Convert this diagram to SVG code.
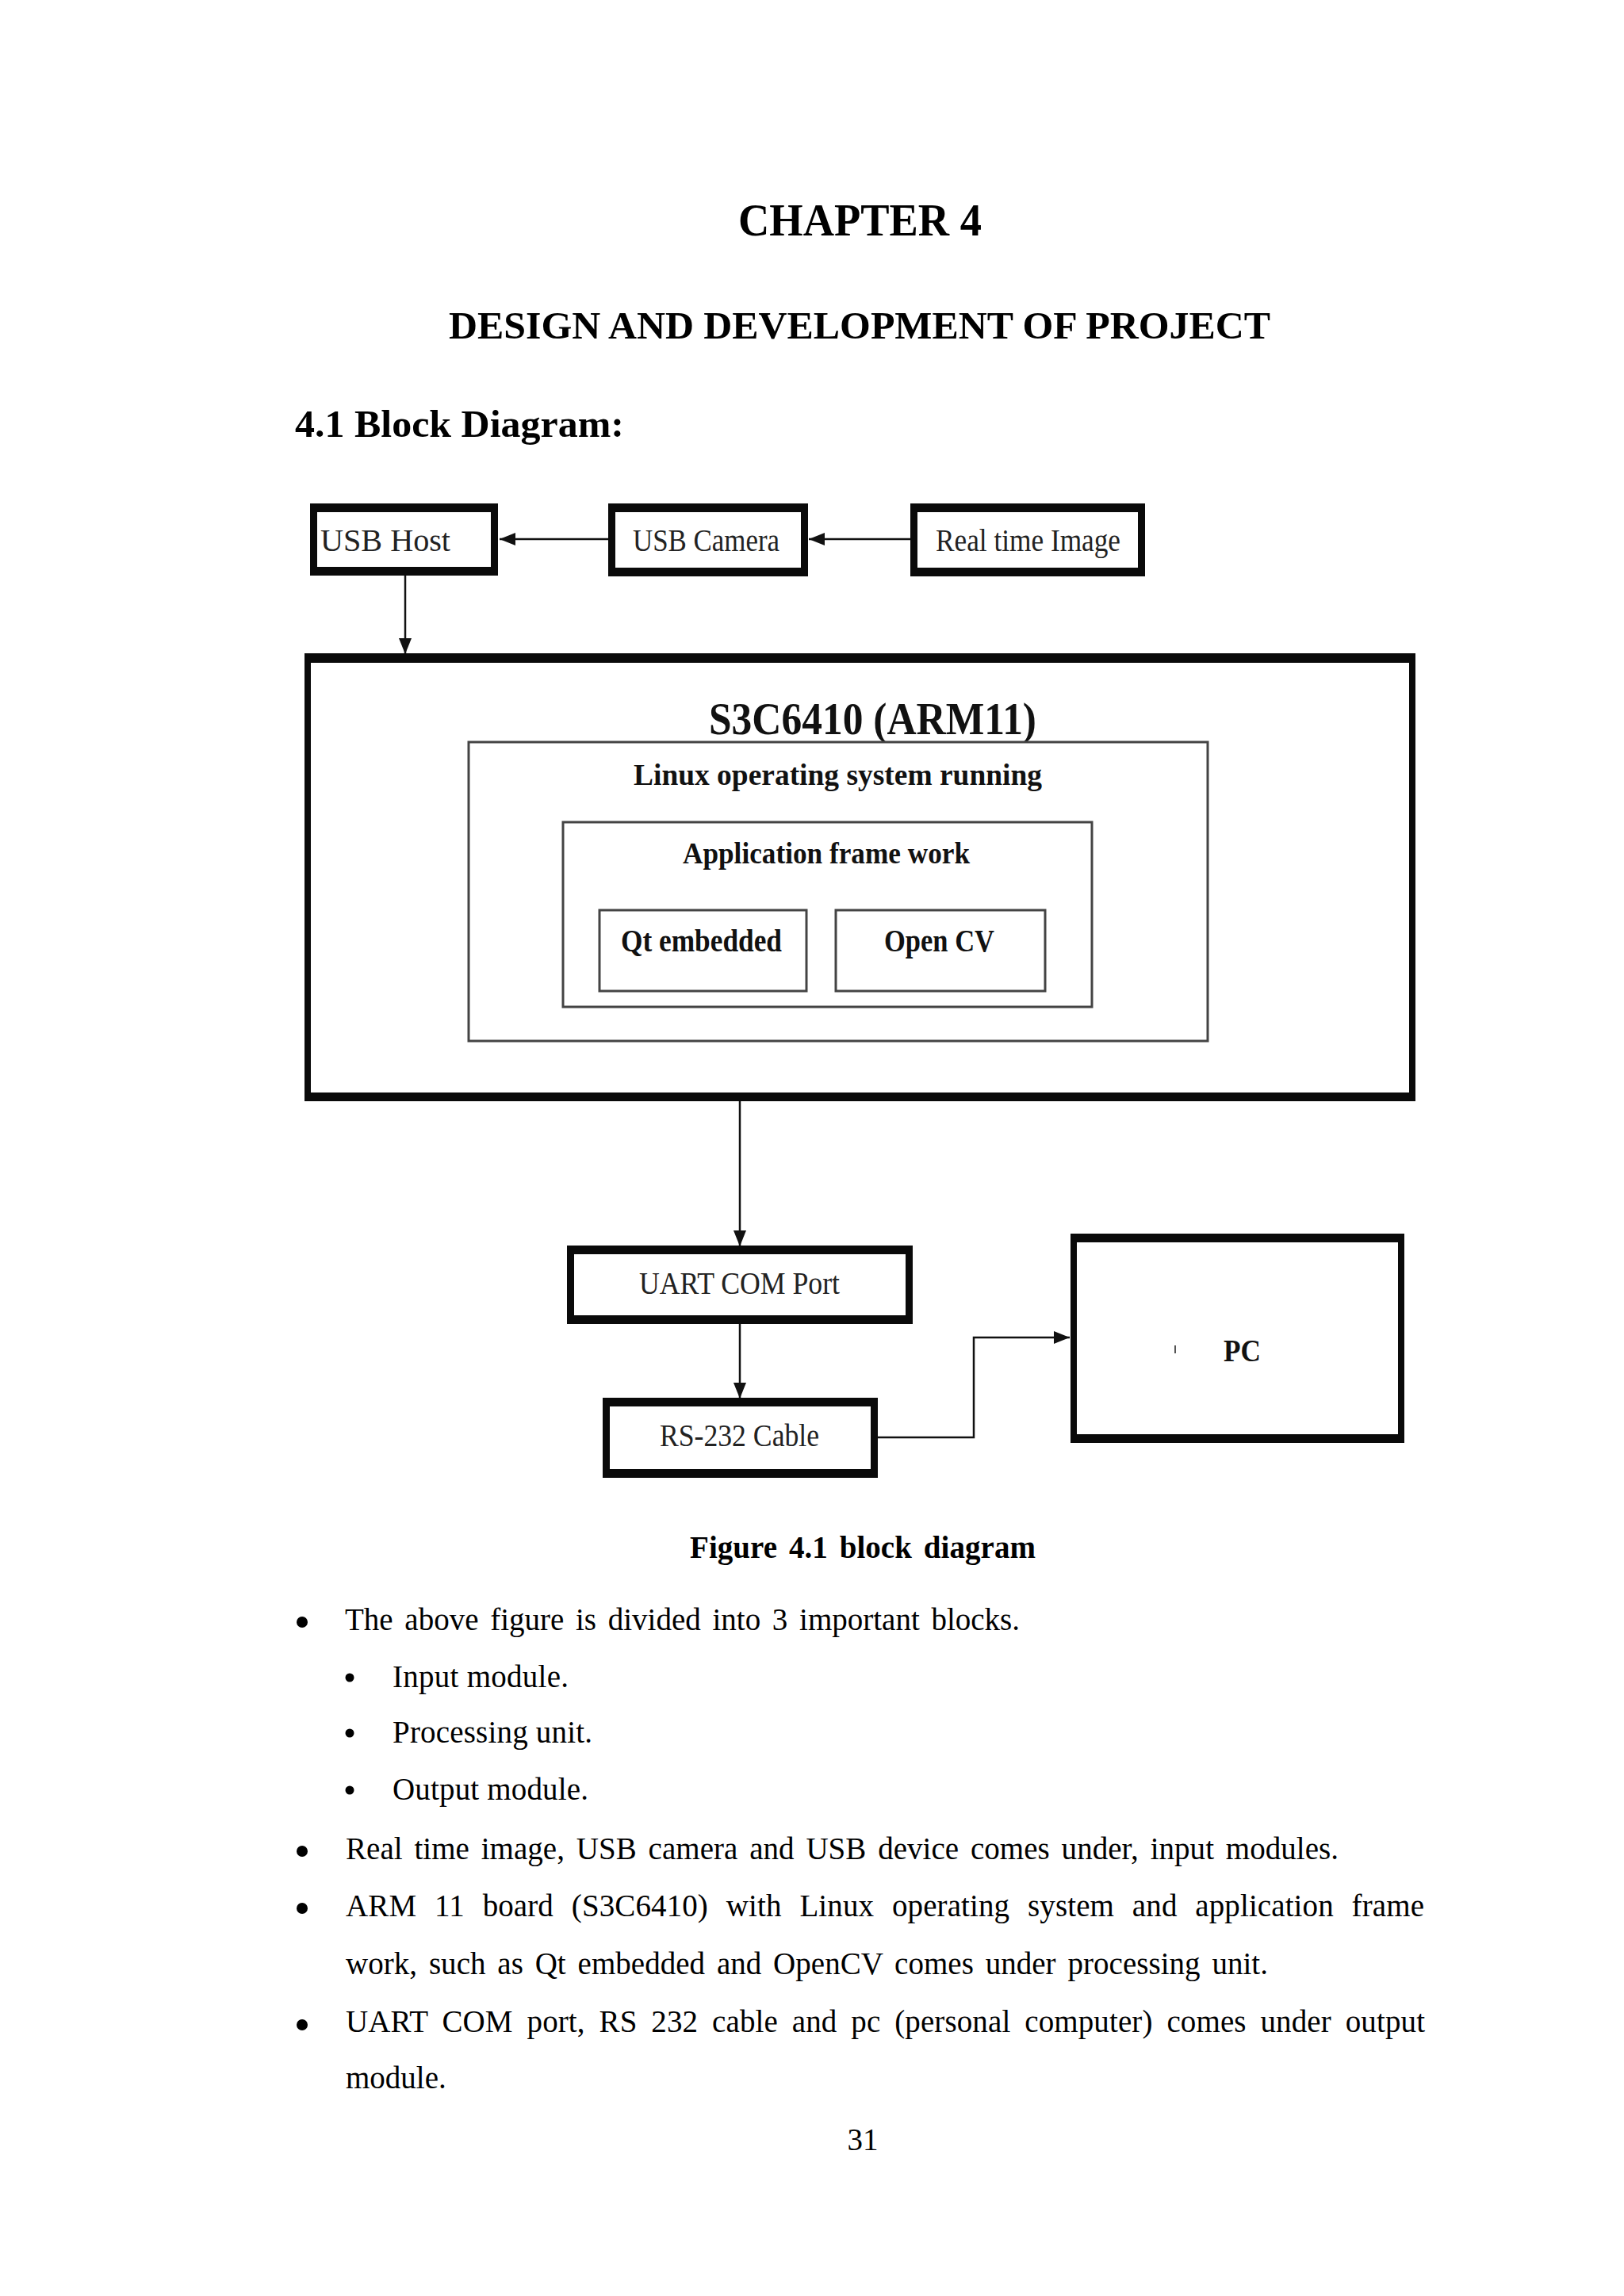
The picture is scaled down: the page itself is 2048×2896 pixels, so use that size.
<svg xmlns="http://www.w3.org/2000/svg" width="2048" height="2896" viewBox="0 0 2048 2896">
<style>
.serif{font-family:"Liberation Serif","Times New Roman",serif;}
.hb{font-family:"Liberation Serif","Times New Roman",serif;font-weight:bold;fill:#000;}
.body{font-family:"Liberation Serif","Times New Roman",serif;font-size:39px;fill:#000;}
.lbl{font-family:"Liberation Serif","Times New Roman",serif;font-size:40px;fill:#222;}
.blbl{font-family:"Liberation Serif","Times New Roman",serif;font-weight:bold;fill:#111;}
.thin{fill:#fff;stroke:#444;stroke-width:3;}
.conn{fill:none;stroke:#111;stroke-width:2.5;}
.outer{fill:#0a0a0a;}
.inner{fill:#fff;}
</style>
<defs>
<marker id="ah" markerUnits="userSpaceOnUse" markerWidth="22" markerHeight="18" refX="20" refY="9" orient="auto">
<path d="M0,1 L20,9 L0,17 z" fill="#111"/>
</marker>
</defs>
<rect x="0" y="0" width="2048" height="2896" fill="#fff"/>

<!-- Headings -->
<text class="hb" x="931" y="297" font-size="56" textLength="307" lengthAdjust="spacingAndGlyphs">CHAPTER 4</text>
<text class="hb" x="566" y="427" font-size="48" textLength="1036" lengthAdjust="spacingAndGlyphs">DESIGN AND DEVELOPMENT OF PROJECT</text>
<text class="hb" x="372" y="551" font-size="49" textLength="415" lengthAdjust="spacingAndGlyphs">4.1 Block Diagram:</text>

<!-- Connectors -->
<g id="connectors">
<line class="conn" x1="767" y1="680" x2="630" y2="680" marker-end="url(#ah)"/>
<line class="conn" x1="1148" y1="680" x2="1020" y2="680" marker-end="url(#ah)"/>
<line class="conn" x1="511" y1="726" x2="511" y2="825" marker-end="url(#ah)"/>
<line class="conn" x1="933" y1="1389" x2="933" y2="1572" marker-end="url(#ah)"/>
<line class="conn" x1="933" y1="1670" x2="933" y2="1764" marker-end="url(#ah)"/>
<polyline class="conn" points="1107,1813 1228,1813 1228,1687 1349,1687" marker-end="url(#ah)"/>
</g>

<!-- Top row -->
<g id="usb-host">
<rect class="outer" x="391" y="635" width="237" height="91"/>
<rect class="inner" x="400" y="646" width="219" height="69"/>
<text class="lbl" x="404" y="695" textLength="164" lengthAdjust="spacingAndGlyphs">USB Host</text>
</g>
<g id="usb-camera">
<rect class="outer" x="767" y="635" width="252" height="92"/>
<rect class="inner" x="776" y="646" width="234" height="70"/>
<text class="lbl" x="798" y="695" textLength="185" lengthAdjust="spacingAndGlyphs">USB Camera</text>
</g>
<g id="real-time-image">
<rect class="outer" x="1148" y="635" width="296" height="92"/>
<rect class="inner" x="1157" y="646" width="278" height="70"/>
<text class="lbl" x="1180" y="695" textLength="233" lengthAdjust="spacingAndGlyphs">Real time Image</text>
</g>

<!-- Main processor box -->
<g id="s3c6410">
<rect class="outer" x="384" y="824" width="1401" height="565"/>
<rect class="inner" x="392" y="836" width="1385" height="542"/>
<text class="blbl" x="894" y="926" font-size="56" textLength="413" lengthAdjust="spacingAndGlyphs">S3C6410 (ARM11)</text>
</g>
<g id="linux">
<rect class="thin" x="591" y="936" width="932" height="377"/>
<text class="blbl" x="799" y="990" font-size="38" textLength="515" lengthAdjust="spacingAndGlyphs">Linux operating system running</text>
</g>
<g id="app-framework">
<rect class="thin" x="710" y="1037" width="667" height="233"/>
<text class="blbl" x="861" y="1089" font-size="37" textLength="362" lengthAdjust="spacingAndGlyphs">Application frame work</text>
</g>
<g id="qt-embedded">
<rect class="thin" x="756" y="1148" width="261" height="102"/>
<text class="blbl" x="783" y="1200" font-size="39" textLength="203" lengthAdjust="spacingAndGlyphs">Qt embedded</text>
</g>
<g id="opencv">
<rect class="thin" x="1054" y="1148" width="264" height="102"/>
<text class="blbl" x="1115" y="1200" font-size="39" textLength="139" lengthAdjust="spacingAndGlyphs">Open CV</text>
</g>

<!-- Output side -->
<g id="uart">
<rect class="outer" x="715" y="1571" width="436" height="99"/>
<rect class="inner" x="724" y="1582" width="418" height="77"/>
<text class="lbl" x="806" y="1632" textLength="253" lengthAdjust="spacingAndGlyphs">UART COM Port</text>
</g>
<g id="rs232">
<rect class="outer" x="760" y="1763" width="347" height="101"/>
<rect class="inner" x="769" y="1774" width="329" height="79"/>
<text class="lbl" x="832" y="1824" textLength="201" lengthAdjust="spacingAndGlyphs">RS-232 Cable</text>
</g>
<g id="pc">
<rect class="outer" x="1350" y="1556" width="421" height="264"/>
<rect class="inner" x="1358" y="1567" width="405" height="242"/>
<line x1="1482" y1="1697" x2="1482" y2="1707" stroke="#555" stroke-width="2"/>
<text class="blbl" x="1543" y="1717" font-size="40" textLength="47" lengthAdjust="spacingAndGlyphs">PC</text>
</g>

<!-- Caption -->
<text class="hb" x="870" y="1965" font-size="39" word-spacing="5" textLength="436" lengthAdjust="spacing">Figure 4.1 block diagram</text>

<!-- Body -->
<circle cx="381" cy="2046" r="7" fill="#000"/>
<text class="body" x="435" y="2056" word-spacing="5" textLength="851" lengthAdjust="spacing">The above figure is divided into 3 important blocks.</text>
<circle cx="441" cy="2116" r="5.5" fill="#000"/>
<text class="body" x="495" y="2128" textLength="222" lengthAdjust="spacing">Input module.</text>
<circle cx="441" cy="2186" r="5.5" fill="#000"/>
<text class="body" x="495" y="2198" textLength="252" lengthAdjust="spacing">Processing unit.</text>
<circle cx="441" cy="2258" r="5.5" fill="#000"/>
<text class="body" x="495" y="2270" textLength="247" lengthAdjust="spacing">Output module.</text>
<circle cx="381" cy="2335" r="7" fill="#000"/>
<text class="body" x="436" y="2345" word-spacing="5" textLength="1252" lengthAdjust="spacing">Real time image, USB camera and USB device comes under, input modules.</text>
<circle cx="381" cy="2407" r="7" fill="#000"/>
<text class="body" x="436" y="2417" word-spacing="13" textLength="1360" lengthAdjust="spacing">ARM 11 board (S3C6410) with Linux operating system and application frame</text>
<text class="body" x="436" y="2490" word-spacing="5" textLength="1163" lengthAdjust="spacing">work, such as Qt embedded and OpenCV comes under processing unit.</text>
<circle cx="381" cy="2554" r="7" fill="#000"/>
<text class="body" x="436" y="2563" word-spacing="8" textLength="1361" lengthAdjust="spacing">UART COM port, RS 232 cable and pc (personal computer) comes under output</text>
<text class="body" x="436" y="2634">module.</text>
<text class="body" x="1088" y="2712" text-anchor="middle">31</text>
</svg>
